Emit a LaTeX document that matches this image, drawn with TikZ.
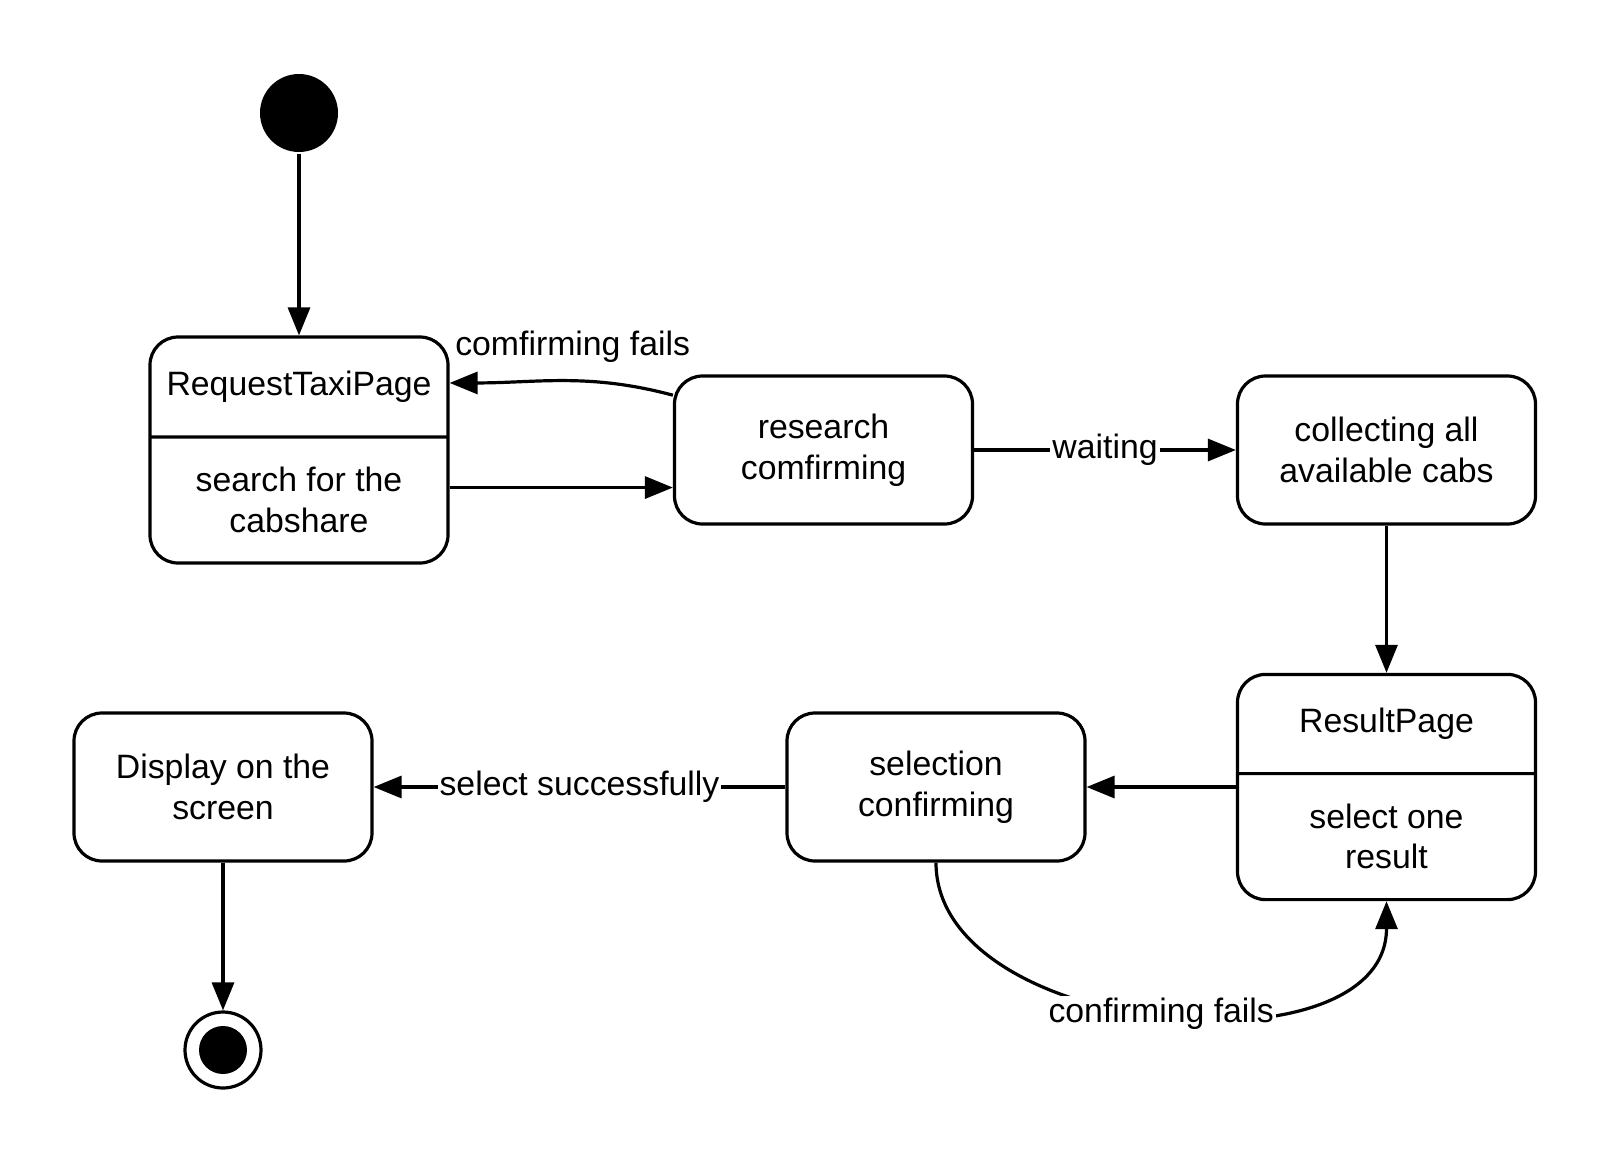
\documentclass[tikz,border=0pt]{standalone}
\usepackage{fontspec}
\setmainfont{Liberation Sans}
\usetikzlibrary{positioning, arrows.meta, shapes.multipart}

\tikzset{
  statebox/.style={draw, rounded corners=14pt, minimum width=149pt, minimum height=74pt, align=center},
  splitbox/.style={draw, rounded corners=14pt, rectangle split, rectangle split parts=2, inner sep=0pt},
  initdot/.style={circle, fill, minimum size=39pt, inner sep=0pt},
  finaldot/.style={circle, draw, minimum size=38pt, inner sep=0pt,
    path picture={\fill (path picture bounding box.center) circle (12pt);}},
  translabel/.style={fill=white, inner sep=1pt}
}
\newcommand{\partbox}[2]{\parbox[c][#1][c]{149pt}{\centering #2}}

\begin{document}
\begin{tikzpicture}[line width=1.6pt, >={Triangle[length=14pt,width=11pt]},
    node distance=2.5cm, on grid, font=\fontsize{16.9}{20.3}\selectfont]
  \useasboundingbox (0,0) rectangle (806.5pt,-581.5pt);

  \node[initdot] (init) at (149.5pt,-56.5pt) {};
  \node[splitbox] (req) [below=168.5pt of init]
    {\partbox{48.4pt}{RequestTaxiPage}\nodepart{two}\partbox{61.4pt}{search for the\\cabshare}};
  \node[statebox] (res) [right=262.25pt of req] {research\\comfirming};
  \node[statebox] (col) [right=281.5pt of res] {collecting all\\available cabs};
  \node[splitbox] (rp) [below=168.5pt of col]
    {\partbox{48pt}{ResultPage}\nodepart{two}\partbox{61.4pt}{select one\\result}};
  \node[statebox] (sel) [left=225.25pt of rp] {selection\\confirming};
  \node[statebox] (disp) [left=356.5pt of sel] {Display on the\\screen};
  \node[finaldot] (fin) [below=131.5pt of disp] {};

  \path[->]
    (init) edge (req)
    (res.160) edge [out=165, in=0] node [above=5pt, pos=0.45] {comfirming fails} (req.24)
    (req.-14) edge (req.-14 -| res.west)
    (res) edge node [translabel] {waiting} (col)
    (col) edge (rp)
    (rp) edge (sel)
    (sel) edge node [translabel] {select successfully} (disp)
    (disp) edge (fin)
    (sel.south) edge [out=-90, in=-90] node [translabel] {confirming fails} (rp.south);
\end{tikzpicture}
\end{document}
